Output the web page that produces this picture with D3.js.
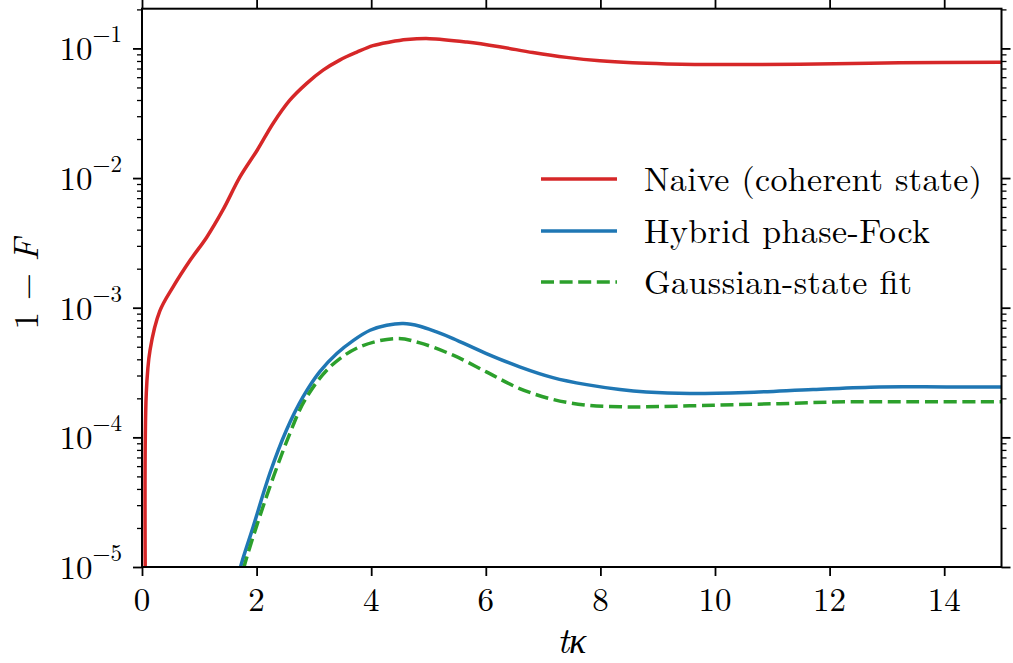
<!DOCTYPE html>
<html>
<head>
<meta charset="utf-8">
<script src="https://cdn.jsdelivr.net/npm/d3@7"></script>
<style>
  body { margin: 0; background: #fff; }
  svg text { font-family: "Latin Modern Roman", "CMU Serif", "Liberation Serif", "DejaVu Serif", serif; fill: #000; }
</style>
</head>
<body>
<div id="chart"></div>
<script>
// values (t kappa, 1 - F)
var naiveT = [0.06, 0.075, 0.14, 0.31, 0.54, 0.84, 1.13, 1.41, 1.71, 2.01, 2.29, 2.58, 2.88, 3.16, 3.45, 3.75, 4.03, 4.33, 4.62, 5.02, 5.67, 6.24, 6.82, 7.41, 7.99, 8.56, 9.16, 10.08, 11.48, 13.22, 15];
var naiveV = [5e-6, 2.2e-4, 4.7e-4, 9.4e-4, 1.44e-3, 2.32e-3, 3.5e-3, 5.65e-3, 0.0102, 0.0164, 0.0265, 0.0399, 0.054, 0.068, 0.0813, 0.0936, 0.105, 0.112, 0.117, 0.119, 0.112, 0.103, 0.093, 0.0853, 0.0802, 0.0774, 0.076, 0.075, 0.0756, 0.0774, 0.0783];

var hybridT = [1.65, 1.72, 1.94, 2.23, 2.52, 2.81, 3.10, 3.40, 3.69, 3.98, 4.27, 4.56, 4.85, 5.14, 5.43, 6.01, 6.59, 7.17, 7.76, 8.34, 8.80, 9.56, 10.55, 11.71, 12.87, 14.04, 15];
var hybridV = [7e-6, 1e-5, 2.04e-5, 5.26e-5, 1.135e-4, 2.05e-4, 3.2e-4, 4.43e-4, 5.6e-4, 6.7e-4, 7.32e-4, 7.55e-4, 7.2e-4, 6.5e-4, 5.78e-4, 4.43e-4, 3.5e-4, 2.89e-4, 2.55e-4, 2.34e-4, 2.24e-4, 2.18e-4, 2.22e-4, 2.34e-4, 2.45e-4, 2.45e-4, 2.45e-4];

var gaussT = [1.7, 1.78, 2.15, 2.58, 2.84, 3.28, 3.80, 4.44, 4.85, 5.43, 6.01, 6.59, 7.17, 7.76, 8.34, 8.80, 9.97, 11.13, 12.29, 13.45, 15];
var gaussV = [7e-6, 1e-5, 3.27e-5, 1.07e-4, 1.93e-4, 3.49e-4, 4.99e-4, 5.78e-4, 5.35e-4, 4.3e-4, 3.2e-4, 2.38e-4, 1.96e-4, 1.77e-4, 1.72e-4, 1.72e-4, 1.77e-4, 1.82e-4, 1.88e-4, 1.88e-4, 1.88e-4];

var seriesNames = ["Naive (coherent state)", "Hybrid phase-Fock", "Gaussian-state fit"];
var seriesColors = ["#d62728", "#1f77b4", "#2ca02c"];

var xTicks = [0, 2, 4, 6, 8, 10, 12, 14];
var yExps = [-5, -4, -3, -2, -1];

var W = 1013, H = 663;
var margin = { top: 8.7, right: 11.5, bottom: 96, left: 142 };
var width = W - margin.left - margin.right,
    height = H - margin.top - margin.bottom;

var svg = d3.select("#chart").append("svg")
    .attr("width", W)
    .attr("height", H);

svg.append("defs").append("clipPath")
    .attr("id", "clip")
    .append("rect")
    .attr("width", width)
    .attr("height", height);

var g = svg.append("g")
    .attr("transform", "translate(" + margin.left + "," + margin.top + ")");

var x = d3.scaleLinear().domain([0, 15]).range([0, width]);
var y = d3.scaleLog().domain([1e-5, 0.2025]).range([height, 0]);

// minor ticks 2..9 for each decade
var minorTicks = [];
yExps.forEach(function (e) {
    for (var k = 2; k <= 9; k++) {
        var v = k * Math.pow(10, e);
        if (v < y.domain()[1]) minorTicks.push(v);
    }
});
var majorTicks = yExps.map(function (e) { return Math.pow(10, e); });

function styleAxis(sel, w) {
    sel.select(".domain").remove();
    sel.selectAll(".tick line").attr("stroke", "#000").attr("stroke-width", w);
    sel.selectAll(".tick text").remove();
}

// bottom + top x axes
g.append("g").attr("transform", "translate(0," + height + ")")
    .call(d3.axisBottom(x).tickValues(xTicks).tickSize(9).tickFormat(""))
    .call(styleAxis, 1.8);
g.append("g")
    .call(d3.axisTop(x).tickValues(xTicks).tickSize(9).tickFormat(""))
    .call(styleAxis, 1.8);

// left + right y axes
g.append("g").call(d3.axisLeft(y).tickValues(majorTicks).tickSize(9).tickFormat("")).call(styleAxis, 1.8);
g.append("g").call(d3.axisLeft(y).tickValues(minorTicks).tickSize(5).tickFormat("")).call(styleAxis, 1.3);
g.append("g").attr("transform", "translate(" + width + ",0)")
    .call(d3.axisRight(y).tickValues(majorTicks).tickSize(9).tickFormat("")).call(styleAxis, 1.8);
g.append("g").attr("transform", "translate(" + width + ",0)")
    .call(d3.axisRight(y).tickValues(minorTicks).tickSize(5).tickFormat("")).call(styleAxis, 1.3);

// x tick labels
g.selectAll(".xlab").data(xTicks).enter().append("text")
    .attr("class", "xlab")
    .attr("x", function (d) { return x(d); })
    .attr("y", height + 44.5)
    .attr("text-anchor", "middle")
    .style("font-size", "33px")
    .text(function (d) { return d; });

// y tick labels with superscripts
var ylab = g.selectAll(".ylab").data(yExps).enter().append("text")
    .attr("class", "ylab")
    .attr("x", -20)
    .attr("y", function (d) { return y(Math.pow(10, d)) + 12; })
    .attr("text-anchor", "end")
    .style("font-size", "33px");
ylab.append("tspan").text("10");
ylab.append("tspan")
    .attr("dy", -18)
    .style("font-size", "23px")
    .text(function (d) { return "\u2212" + Math.abs(d); });

// curves
var line = d3.line()
    .x(function (d) { return x(d[0]); })
    .y(function (d) { return y(d[1]); })
    .curve(d3.curveCatmullRom.alpha(0.5));

var series = [
    d3.zip(naiveT, naiveV),
    d3.zip(hybridT, hybridV),
    d3.zip(gaussT, gaussV)
];

var plot = g.append("g").attr("clip-path", "url(#clip)");
series.forEach(function (s, i) {
    plot.append("path")
        .datum(s)
        .attr("fill", "none")
        .attr("stroke", seriesColors[i])
        .attr("stroke-width", 3.5)
        .attr("stroke-dasharray", i == 2 ? "13,5.6" : null)
        .attr("d", line);
});

// frame
g.append("rect")
    .attr("width", width)
    .attr("height", height)
    .attr("fill", "none")
    .attr("stroke", "#000")
    .attr("stroke-width", 2);

// legend
var legendY = [179, 231, 282];
var legendW = [338, 286, 268];
var legend = svg.append("g");
seriesNames.forEach(function (name, i) {
    legend.append("line")
        .attr("x1", 541).attr("x2", 617)
        .attr("y1", legendY[i]).attr("y2", legendY[i])
        .attr("stroke", seriesColors[i])
        .attr("stroke-width", 3.5)
        .attr("stroke-dasharray", i == 2 ? "13,5.6" : null);
    legend.append("text")
        .attr("x", 644)
        .attr("y", legendY[i] + 12)
        .attr("textLength", legendW[i])
        .attr("lengthAdjust", "spacing")
        .style("font-size", "34px")
        .text(name);
});

// axis labels
svg.append("text")
    .attr("x", margin.left + width / 2)
    .attr("y", 653)
    .attr("text-anchor", "middle")
    .style("font-size", "36px")
    .style("font-style", "italic")
    .text("t\u03ba");

var yl = svg.append("text")
    .attr("transform", "translate(38,284) rotate(-90)")
    .attr("text-anchor", "middle")
    .style("font-size", "35px");
yl.append("tspan").text("1 \u2212 ");
yl.append("tspan").style("font-style", "italic").text("F");
</script>
</body>
</html>
